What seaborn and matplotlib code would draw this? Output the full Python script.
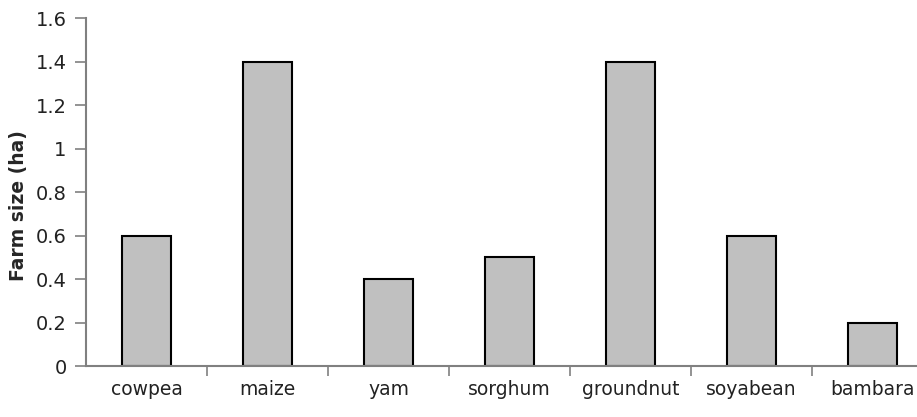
import matplotlib
matplotlib.use("Agg")
import matplotlib.pyplot as plt
import seaborn as sns
import numpy as np

# crop farm sizes
crops = ['cowpea', 'maize', 'yam', 'sorghum', 'groundnut', 'soyabean', 'bambara']
farm_size = [0.6, 1.4, 0.4, 0.5, 1.4, 0.6, 0.2]

sns.set_style("white")
plt.rcParams['font.family'] = ['DejaVu Sans']

fig = plt.figure(figsize=(9.17, 4.17), dpi=100)
ax = fig.add_axes([0.0938, 0.1223, 0.9237, 0.8345])

sns.barplot(x=crops, y=farm_size, color='#c0c0c0', saturation=1,
            edgecolor='black', linewidth=1.5, width=0.4, ax=ax)

ax.set_xlim(-0.5, 6.5)
ax.set_ylim(0, 1.6)
ax.set_yticks(np.arange(0, 1.61, 0.2))
ax.set_yticklabels(['0', '0.2', '0.4', '0.6', '0.8', '1', '1.2', '1.4', '1.6'])
ax.set_ylabel('Farm size (ha)', fontsize=13.5, fontweight='bold', labelpad=0)
ax.yaxis.set_label_coords(-0.068, 0.46)
ax.set_xlabel('')

for s in ['top', 'right']:
    ax.spines[s].set_visible(False)
for s in ['left', 'bottom']:
    ax.spines[s].set_color('#808080')
    ax.spines[s].set_linewidth(1.5)

ax.tick_params(axis='y', direction='out', length=8, width=1.2, color='#808080',
               labelsize=14, labelcolor='#222222', left=True, pad=6)
ax.tick_params(axis='x', which='major', length=0, labelsize=13.5, labelcolor='#222222', pad=10)
ax.set_xticks(np.arange(0.5, 6.5, 1), minor=True)
ax.tick_params(axis='x', which='minor', direction='out', length=7, width=1.2,
               color='#808080', bottom=True)

fig.savefig('out.png', dpi=100)
